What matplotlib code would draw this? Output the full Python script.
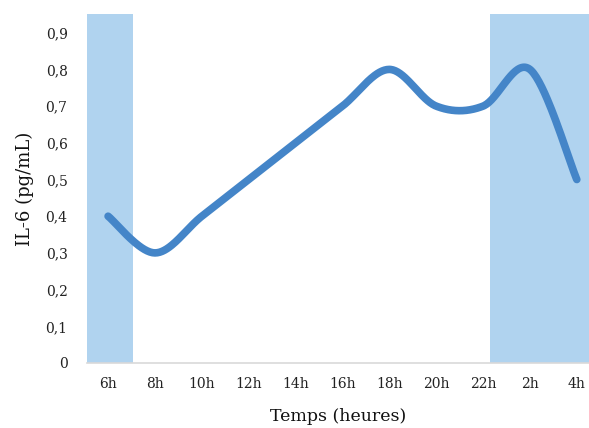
import numpy as np
import matplotlib
matplotlib.use("Agg")
import matplotlib.pyplot as plt

categories = ["6h", "8h", "10h", "12h", "14h", "16h", "18h", "20h", "22h", "2h", "4h"]
il6 = [0.4, 0.3, 0.4, 0.5, 0.6, 0.7, 0.8, 0.7, 0.7, 0.8, 0.5]
yticks = [0, 0.1, 0.2, 0.3, 0.4, 0.5, 0.6, 0.7, 0.8, 0.9]
ytick_labels = ["0", "0,1", "0,2", "0,3", "0,4", "0,5", "0,6", "0,7", "0,8", "0,9"]
night_spans = [(-0.45, 0.53), (8.15, 10.3)]

plt.rcParams['font.family'] = ['DejaVu Serif']

def smooth(xs, ys, n=40):
    xs = np.asarray(xs, float); ys = np.asarray(ys, float)
    P = np.column_stack([xs, ys])
    P = np.vstack([P[0], P, P[-1]])
    out = []
    for i in range(1, len(P) - 2):
        p0, p1, p2, p3 = P[i - 1], P[i], P[i + 1], P[i + 2]
        c1 = p1 + (p2 - p0) / 6.0
        c2 = p2 - (p3 - p1) / 6.0
        t = np.linspace(0, 1, n)[:, None]
        b = (1 - t) ** 3 * p1 + 3 * (1 - t) ** 2 * t * c1 + 3 * (1 - t) * t ** 2 * c2 + t ** 3 * p2
        out.append(b if i == 1 else b[1:])
    out = np.vstack(out)
    return out[:, 0], out[:, 1]

fig = plt.figure(figsize=(5.89, 4.28), dpi=100)
ax = fig.add_axes([87 / 589, 65 / 428, 502 / 589, 349 / 428])

x = np.arange(len(categories))
for a, b in night_spans:
    ax.axvspan(a, b, color="#b0d3ef", lw=0, zorder=1)

sx, sy = smooth(x, il6)
ax.plot(sx, sy, color="#4485c8", lw=5.5, solid_capstyle="round", zorder=3)

ax.set_xlim(-0.45, 10.26)
ax.set_ylim(0, 0.951)
ax.set_xticks(x)
ax.set_xticklabels(categories, fontsize=10)
ax.set_yticks(yticks)
ax.set_yticklabels(ytick_labels, fontsize=10)
ax.tick_params(length=0, pad=10, colors="#222222")
ax.tick_params(axis="y", pad=14)
for s in ["top", "right", "left"]:
    ax.spines[s].set_visible(False)
ax.spines["bottom"].set_color("#d9d9d9")
ax.spines["bottom"].set_linewidth(1.2)
ax.set_xlabel("Temps (heures)", fontsize=12.5, labelpad=12, color="#111111")
ax.set_ylabel("IL-6 (pg/mL)", fontsize=13, labelpad=8, color="#111111")

fig.savefig("out.png", dpi=100)
